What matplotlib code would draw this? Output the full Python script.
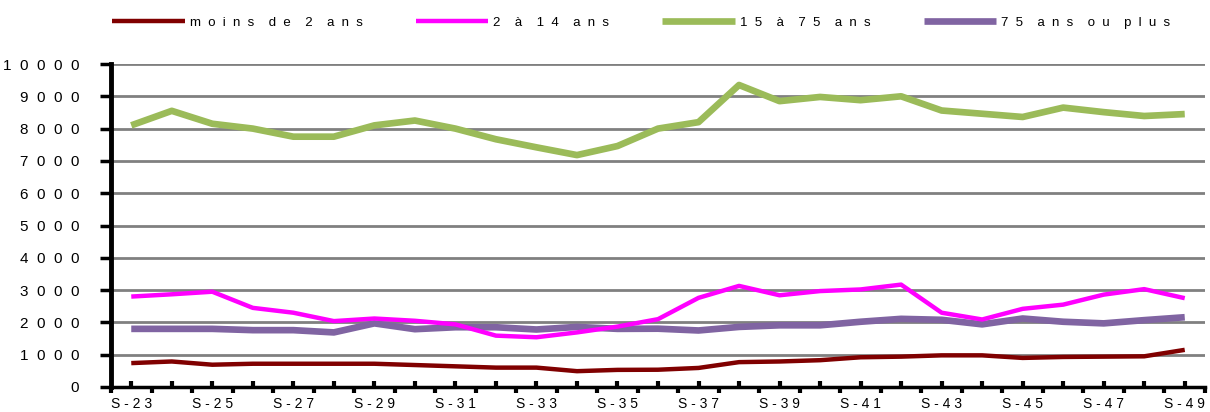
import matplotlib
matplotlib.use('Agg')
import matplotlib.pyplot as plt

plt.rcParams['font.family'] = ['Liberation Sans', 'DejaVu Sans']

weeks = ['S-%d' % w for w in range(23, 50)]

moins_2 = [740, 790, 690, 720, 720, 720, 720, 680, 640, 600, 600, 490, 530, 535,
           590, 770, 790, 830, 920, 940, 980, 980, 900, 930, 940, 950, 1150]
de_2_14 = [2800, 2870, 2950, 2450, 2300, 2040, 2120, 2050, 1940, 1590, 1540, 1690, 1870, 2100,
           2760, 3130, 2840, 2970, 3020, 3170, 2300, 2090, 2420, 2550, 2860, 3030, 2750]
de_15_75 = [8100, 8550, 8150, 8000, 7750, 7750, 8100, 8250, 8000, 7670, 7420, 7180, 7460, 8000,
            8200, 9350, 8850, 8980, 8880, 9000, 8560, 8460, 8360, 8650, 8510, 8390, 8450]
plus_75 = [1800, 1800, 1800, 1760, 1760, 1690, 1970, 1790, 1850, 1850, 1780, 1860, 1800, 1805,
           1750, 1860, 1910, 1910, 2020, 2110, 2080, 1940, 2120, 2020, 1970, 2070, 2160]

labels = ['moins de 2 ans', '2 à 14 ans', '15 à 75 ans', '75 ans ou plus']
colors = ['#800000', '#FF00FF', '#9BBB59', '#8064A2']
widths = [3.2, 3.2, 4.8, 4.8]


def spaced(s, sep='  ', wsep='    '):
    # imitate the wide character spacing of the original
    return wsep.join(sep.join(w) for w in s.split(' '))


def main():
    fig = plt.figure(figsize=(12.1, 4.12), dpi=100)
    ax = fig.add_axes([111 / 1210, 25 / 412, 1094 / 1210, 323 / 412])

    x = list(range(len(weeks)))
    series = [moins_2, de_2_14, de_15_75, plus_75]
    # green first, then purple, pink, dark red on top
    order = [2, 3, 1, 0]
    handles = {}
    for i in order:
        ln, = ax.plot(x, series[i], color=colors[i], lw=widths[i],
                      solid_capstyle='butt', solid_joinstyle='round', zorder=3)
        handles[i] = ln

    ax.set_ylim(0, 10000)
    ax.set_xlim(-0.43, len(weeks) - 0.57)
    yt = list(range(0, 10001, 1000))
    ax.set_yticks(yt)
    ax.set_yticklabels([spaced(str(v)) for v in yt], fontsize=11)
    ax.grid(axis='y', color='#808080', lw=2, zorder=1)
    ax.set_axisbelow(True)

    ax.set_xticks(x)
    ax.set_xticklabels([spaced(w, sep=' ') if k % 2 == 0 else '' for k, w in enumerate(weeks)],
                       fontsize=10)
    ax.set_xticks([k + 0.5 for k in range(-1, len(weeks))], minor=True)
    ax.tick_params(axis='x', which='major', direction='in', length=4, width=3, pad=7)
    ax.tick_params(axis='x', which='minor', direction='out', length=4, width=3)
    ax.tick_params(axis='y', direction='out', length=8, width=2.5, pad=15)

    for side in ['top', 'right']:
        ax.spines[side].set_visible(False)
    ax.spines['left'].set_linewidth(3.5)
    ax.spines['bottom'].set_linewidth(2.5)

    fig.legend([handles[i] for i in range(4)], [spaced(l) for l in labels],
               loc='center', bbox_to_anchor=(0.530, 0.945), ncol=4, frameon=False,
               fontsize=9.5, handlelength=5.5, handletextpad=0.4, columnspacing=4.0)

    fig.savefig('out.png', dpi=100)


if __name__ == '__main__':
    main()
